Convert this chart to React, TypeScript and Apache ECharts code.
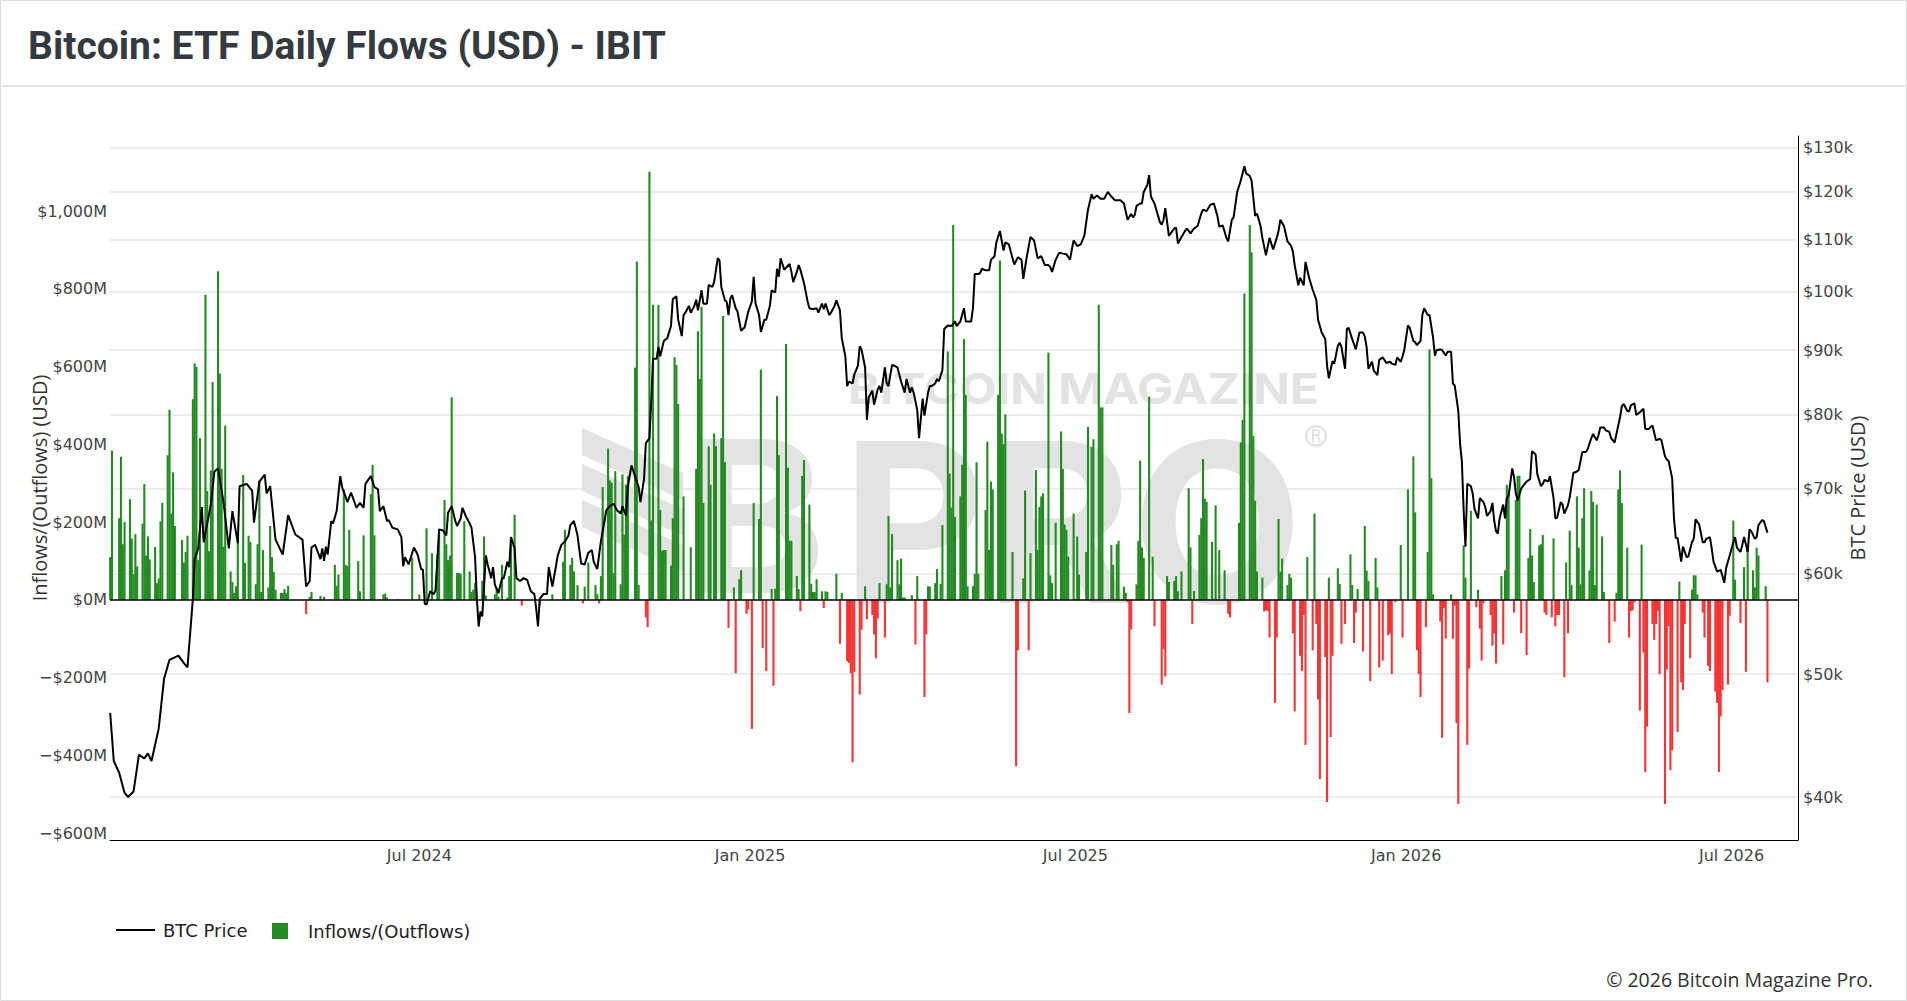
import React, { useEffect, useRef } from "react";
import * as echarts from "echarts";

// ---------- data ----------
const DAY = 86400000;
const LAUNCH = Date.UTC(2024, 0, 11); // first IBIT trading day

// daily IBIT flows in $M, one value per weekday from launch
const flowsJanMay2024 = [110,384, 0,210,368,143,200, 259,158,66,169,86, 196,298,114,163,104, 136,43,55,202,249, 372,489,222,328,190, 0,154,96,123,165, 516,608,599,102,416, 785,280,125,333,560, 845,582,337,137,448, 73,46,18,35,162, 321,95,2,165,149, 40,143,307,20,128, 32,190,110,72,26, 18,18,28,18,36, 0,0,0,0,0, -37,0,8,20,0];
const flowsMayAug2024 = [0,10,0,8,0, 0,0,90,36,65, 284,90,87,180,0, 0,100,22,0,166, 0,272,347,166,0, 0,14,16,6,0, 0,0,2,0,0, 0,0,0,108,0, 14,0,0,0,184, 120,0,0,116,182, 257,143,102,114,521, 69,69,67,0,202, 73,20,26,43,0, 49,163,11,0,0, 14,32,8,0,90, 6,61,143,0,219, 0,-15,0,0];
const flowsSepDec2024 = [0, 0,0,0,0,-15, 0,0,0,0,14, 0,0,0,98,180, 90,108,73,0,38, -9,34,0,96,0, 38,14,-9,61,290, 389,307,301,69,331, 40,323,167,296,319, 0,597,870,38,2, -45,-70,1101,204,759, 759,231,126,128,128, 88,210,624,604,504, 266,0,0,0,135, 337,691,568,753,249, 395,296,0,428,395, 416,730,354,0,-72, 32,-189];
const flowsDec2024Apr2025 = [0,53,76, -36,-25,0,-332,249, 208,592,-124,0,-183, 28,-221,29,524,372, 0,658,340,152,152, 61,28,-29,319,360, 245,41,20,20,53, 22,-21,22,20,0, 0,67,0,-113,18, -158,-162,-189,-418,-185, -244,-77,0,35,-50, -39,-89,-150,-48,43, -97,40,216,32,169, 102,40,106,6,6, 0,12,0,-115,61, 0,-250,-89,35,34, 43,79,2,41,192];
const flowsAprAug2025 = [639,325,237,964,213, 266,348,671,527,35, 35,67,354,67,0, 231,407,128,304,284, 527,873,428,401,477, 0,123,0,-428,-130, 55,281,0,-130,120, 334,129,239,266,274, 636,63,43,0,198, 433,337,194,180,111, 222,2,163,65,0, 123,445,0,393,413, 759,495,495,0,0, 141,90,0,143,152, 34,18,-6,-291,-76, 40,152,358,135,108, 522,0,111,-68,0];
const flowsAugDec2025 = [-218,-127,-197,61,46, 49,61,22,0,73, 0,287,135,-62,23, 167,210,362,260,252, 149,0,243,2,128, 76,0,-36,-45,0, 0,198,405,463,788, 964,894,421,255,73, 57,-30,-27,-29,-97, -265,-97,208,73,106, 38,67,57,-86,-287, -144,-183,-39,-373,110, -130,222,-62,-256,-461, -147,-520,57,-353,-144, 81,41,-113,0,-62, 117,38,-111,-33,28, -133,190,75];
const flowsDec2025Apr2026 = [49,-209, 108,32,-174,0,-156, -91,-86,-191,0,-6, 141,-97,0,0,284, 369,225,-129,-191,-250, -70,123,644,313,14, 0,-56,-355,-21,-100, 14,-100,-15,-317,-525, 140,57,-373,-177,229, -19,26,-74,-156,-9, 0,-39,-118,-86,-164, 61,-115,76,296,272, -33,257,319,319,-86, -142,108,182,114,46, 140,143,167,-33,-39, -45,158,-68,-39,-39, -199,96,-86,178,38];
const flowsAprJul2026 = [266,135,40,210,287, 76,280,252,38,245, 163,20,0,0,-111, -56,18,284,333,249, 134,-97,-29,-27,-6, -285,142,-136,-443,-326, -62,-103,-62,-29,-191, -525,-179,-68,-438,-387, -340,47,-212,-232,-62, -150,26,63,63,14, -33,-97,0,-170,-183, -236,-265,-443,-300,-232, -218,-41,0,204,52, -60,0,84,-185,134, 76,32,134,114,0, 35,-212];

// BTC price in $k: [days since launch, price]
const price2024 = [[0,46.6],[2,42.7],[5,41.8],[8,40.3],[10,40.0],[13,40.4],[16,43.2],[19,42.9],[21,43.3],[23,42.7],[27,45.3],[30,49.6],[33,51.3],[38,51.7],[41,51.0],[43,50.6],[46,57.3],[47,61.6],[49,62.8],[51,67.7],[52,63.5],[56,68.0],[58,72.2],[60,72.6],[63,68.4],[66,62.8],[68,67.2],[71,63.4],[72,70.3],[76,70.6],[79,69.7],[80,65.8],[83,70.9],[86,71.8],[87,69.4],[89,70.3],[92,63.8],[96,62.1],[99,66.7],[103,64.4],[107,63.8],[109,58.6],[111,59.2],[112,62.9],[114,63.2],[117,61.6],[118,62.8],[119,61.4],[120,63.0],[121,62.1],[123,66.0],[124,65.7],[126,67.2],[128,71.6],[129,70.2],[132,68.3],[134,69.5],[137,67.6],[139,68.2],[141,67.6],[142,70.6],[145,71.6],[147,70.2],[149,69.9],[150,67.2],[152,67.8],[154,66.0],[155,66.1],[157,65.2],[160,65.0],[162,64.1],[163,60.8],[164,61.8],[166,61.0],[167,61.6],[169,62.9],[171,62.1],[173,60.5],[174,60.4],[175,56.8],[176,56.7],[178,58.1],[180,57.8],[181,58.2],[183,65.0],[185,64.9],[187,64.3],[188,67.0],[190,67.8],[192,66.0],[193,65.4],[195,66.3],[196,67.6],[198,66.5],[200,65.7],[201,65.2],[203,61.8],[204,57.3],[205,54.5],[206,56.0],[207,55.5],[209,62.0],[210,61.0],[212,59.5],[213,60.7],[214,58.8],[216,57.9],[218,59.5],[219,59.5],[221,61.3],[222,60.7],[223,64.1],[225,62.8],[226,59.5],[228,59.2],[230,59.5],[232,59.3],[234,58.1],[236,57.8],[237,56.3],[238,54.5],[239,57.3],[241,57.8],[243,57.8],[244,60.7],[246,58.6],[248,60.8],[249,62.0],[251,63.2],[253,63.6],[255,64.3],[256,65.5],[258,66.0],[260,64.3],[262,61.1],[264,61.0],[266,62.3],[268,62.6],[269,61.3],[271,60.5],[273,63.6],[275,66.0],[276,67.3],[278,67.8],[280,68.1],[282,67.3],[284,66.9],[285,67.8],[287,66.6],[288,70.2],[290,73.0],[292,71.6],[294,70.2],[295,68.3],[297,71.2],[298,76.0],[300,76.7],[301,81.9],[302,88.6],[304,88.6],[305,90.5],[306,89.0],[308,91.5],[310,92.0],[312,94.0],[313,98.7],[315,99.2],[316,95.1],[318,92.3],[319,95.9],[320,96.3],[322,97.5],[323,96.3],[325,97.5],[326,98.6],[327,96.7],[329,100.3],[330,97.9],[332,97.9],[333,101.3],[335,100.9],[336,101.8],[338,106.3],[339,105.9],[340,100.9],[342,98.5],[343,98.2],[344,95.9],[345,98.8],[346,99.4],[348,97.1],[349,96.5],[351,93.2],[353,93.8],[355,96.5]];
const price2025 = [[357,98.3],[358,102.8],[359,98.0],[361,95.9],[362,93.0],[364,95.1],[365,95.1],[367,97.5],[368,100.3],[370,99.9],[371,104.3],[372,102.8],[373,106.3],[375,104.1],[376,104.5],[378,105.2],[379,103.7],[380,101.8],[382,103.7],[383,105.0],[384,104.1],[386,101.6],[388,98.3],[389,97.1],[391,96.9],[393,97.1],[394,96.3],[396,97.9],[397,96.9],[398,97.9],[400,95.9],[401,96.3],[403,97.5],[404,98.5],[406,96.7],[407,92.0],[409,89.0],[410,84.3],[411,85.0],[413,84.7],[414,86.1],[416,87.5],[417,90.6],[418,90.1],[420,87.2],[421,79.3],[422,82.6],[424,83.6],[425,81.5],[427,83.8],[428,84.3],[429,83.3],[431,87.2],[432,84.7],[433,84.3],[435,87.6],[436,87.5],[438,87.2],[440,85.0],[442,83.3],[443,85.4],[445,83.3],[446,84.1],[447,83.3],[449,80.7],[450,76.7],[452,82.4],[453,79.9],[455,83.3],[456,84.3],[457,84.3],[459,84.7],[460,85.4],[461,85.0],[463,86.8],[464,93.5],[466,94.1],[468,94.0],[470,94.8],[471,94.0],[473,94.8],[475,97.1],[476,94.8],[479,94.8],[480,97.1],[481,103.3],[483,103.3],[484,103.5],[485,104.3],[487,104.0],[489,104.0],[490,106.0],[492,106.7],[493,109.4],[495,111.7],[497,107.8],[498,109.4],[500,109.0],[501,107.6],[503,105.1],[505,106.5],[507,106.0],[508,102.4],[510,106.7],[512,110.5],[514,109.8],[516,106.3],[518,106.7],[520,105.0],[522,105.0],[523,104.6],[524,103.7],[526,106.0],[528,107.4],[530,107.2],[532,107.1],[534,106.0],[535,108.0],[536,109.8],[538,108.7],[540,109.0],[542,110.8],[544,116.1],[546,119.4],[547,118.4],[549,119.1],[551,118.4],[553,118.4],[555,119.9],[557,118.9],[559,118.1],[560,118.1],[562,118.1],[564,117.4],[566,114.0],[568,115.2],[569,114.5],[570,115.0],[571,116.9],[573,117.4],[574,117.4],[575,119.9],[577,121.4],[578,123.6],[579,118.9],[581,117.4],[582,116.1],[584,113.5],[585,113.0],[586,114.0],[587,116.4],[589,110.7],[590,111.2],[592,112.2],[593,112.4],[594,109.2],[596,110.5],[598,111.7],[599,112.2],[601,111.2],[603,112.2],[605,112.7],[607,115.3],[608,116.1],[610,115.8],[612,117.1],[614,117.4],[616,114.8],[617,112.6],[619,112.8],[621,110.3],[622,109.6],[624,114.0],[625,114.5],[627,119.9],[629,122.4],[631,125.6],[632,124.0],[634,123.4],[635,122.4],[637,114.8],[638,115.3],[640,112.7],[641,110.3],[643,106.9],[645,110.3],[647,108.0],[649,110.3],[650,111.7],[651,114.0],[653,112.7],[655,109.6],[657,108.7],[658,107.6],[659,105.0],[661,101.2],[662,102.6],[664,101.2],[665,105.6],[667,102.6],[669,100.4],[671,98.6],[672,95.1],[674,92.9],[676,91.8],[677,87.5],[678,85.5],[680,88.2],[681,87.8],[683,90.7],[684,91.2],[685,90.5],[687,87.0],[688,93.5],[689,93.7],[691,91.8],[693,90.1],[694,91.5],[695,92.9],[697,92.9],[698,92.2],[699,90.5],[700,87.0],[702,88.1],[703,86.7],[705,86.0],[706,88.4],[708,88.8],[710,87.9],[712,88.1],[713,87.8],[715,87.6],[716,88.8],[718,88.1],[719,89.0],[720,90.1]];
const price2026 = [[722,94.1],[723,93.7],[725,91.5],[726,91.3],[727,90.8],[729,91.5],[730,95.9],[731,97.1],[733,95.9],[734,95.9],[736,92.0],[737,89.1],[738,90.0],[740,90.1],[741,90.0],[743,89.1],[744,89.7],[746,89.7],[747,84.7],[748,84.4],[750,80.6],[751,75.9],[752,73.5],[753,67.2],[754,63.0],[755,70.6],[757,70.3],[758,69.4],[759,67.5],[761,66.3],[762,68.8],[764,68.3],[765,67.7],[766,66.6],[768,67.2],[769,68.2],[770,66.0],[771,64.8],[772,64.5],[773,66.3],[775,68.0],[776,66.3],[777,68.8],[778,69.1],[780,72.6],[781,71.5],[782,69.4],[783,68.5],[785,70.0],[786,70.3],[788,70.9],[790,71.2],[791,74.9],[793,74.5],[794,71.8],[796,70.3],[797,70.6],[798,71.1],[800,70.9],[801,71.6],[803,68.8],[804,66.3],[805,66.4],[807,68.3],[808,68.0],[809,66.9],[811,67.9],[812,68.9],[814,72.0],[816,72.2],[817,72.4],[819,74.8],[821,74.8],[822,75.2],[824,76.7],[825,77.3],[827,76.4],[828,77.1],[829,78.2],[831,78.2],[832,77.8],[834,77.6],[835,76.7],[837,76.1],[838,77.3],[840,79.7],[841,81.3],[842,81.6],[844,80.6],[845,80.5],[846,81.4],[848,81.7],[849,80.0],[851,80.4],[853,80.9],[854,78.0],[856,78.0],[858,78.5],[860,76.4],[862,76.6],[863,76.4],[865,74.2],[866,73.8],[867,73.6],[869,71.3],[870,66.3],[871,64.0],[872,64.0],[874,61.3],[875,63.0],[877,61.8],[878,61.9],[880,63.5],[881,63.9],[882,66.2],[884,65.6],[886,63.5],[887,63.5],[888,63.9],[890,64.1],[891,62.8],[892,61.3],[894,60.2],[895,60.3],[896,60.4],[898,59.0],[899,60.6],[901,62.0],[903,63.5],[904,64.1],[905,62.9],[907,62.4],[908,63.2],[909,64.1],[911,62.4],[912,65.0],[913,64.8],[915,63.9],[916,64.1],[917,65.5],[919,66.1],[920,66.0],[922,64.6]];

// axis ticks
const flowTicks = [-600, -400, -200, 0, 200, 400, 600, 800, 1000];
const priceTicks = [40, 50, 60, 70, 80, 90, 100, 110, 120, 130];
const dateTicks = ["2024-07-01", "2025-01-01", "2025-07-01", "2026-01-01", "2026-07-01"];
const MONTHS = ["Jan","Feb","Mar","Apr","May","Jun","Jul","Aug","Sep","Oct","Nov","Dec"];

// ---------- styles ----------
const GREEN = "#228b22";
const RED = "#f83333";
const TICK_FONT = "DejaVu Sans";
const TITLE_FONT = "Open Sans";

function buildOption() {
  const flows = [
    ...flowsJanMay2024, ...flowsMayAug2024, ...flowsSepDec2024, ...flowsDec2024Apr2025,
    ...flowsAprAug2025, ...flowsAugDec2025, ...flowsDec2025Apr2026, ...flowsAprJul2026,
  ];
  const flowDates: number[] = [];
  for (let d = 0; flowDates.length < flows.length; d++) {
    const wd = (d + 3) % 7; // Mon=0 ... Sun=6 (launch day was a Thursday)
    if (wd < 5) flowDates.push(LAUNCH + d * DAY);
  }
  const barData = flows.map((v, i) =>
    v < 0 ? { value: [flowDates[i], v], itemStyle: { color: RED } } : { value: [flowDates[i], v] }
  );
  const priceData = [...price2024, ...price2025, ...price2026].map(([d, p]) => [LAUNCH + d * DAY, p]);
  const tickTs = dateTicks.map((s) => Date.parse(s + "T00:00:00Z"));

  const wm = "#e3e3e3";
  return {
    animation: false,
    backgroundColor: "#fff",
    title: {
      text: "Bitcoin: ETF Daily Flows (USD) - IBIT",
      left: 28,
      top: 26,
      padding: 0,
      textStyle: { fontFamily: "Roboto", fontWeight: "bold", fontSize: 39, lineHeight: 39, color: "#343a40" },
    },
    grid: { left: 110, right: 109, top: 136, bottom: 161, containLabel: false },
    legend: [
      {
        data: [{ name: "BTC Price", icon: "path://M0,0L40,0L40,2L0,2Z", itemStyle: { color: "#000" } }],
        left: 116, top: 921, itemWidth: 39, itemHeight: 2, padding: 0, selectedMode: false,
        textStyle: { fontFamily: TICK_FONT, fontSize: 18, color: "#222", padding: [0, 0, 0, 3] },
      },
      {
        data: [{ name: "Inflows/(Outflows)", icon: "rect", itemStyle: { color: GREEN } }],
        left: 272, top: 922, itemWidth: 16, itemHeight: 16, padding: 0, selectedMode: false,
        textStyle: { fontFamily: TICK_FONT, fontSize: 18, color: "#222", padding: [0, 0, 0, 15] },
      },
    ],
    xAxis: {
      type: "value",
      min: LAUNCH - 0.1 * DAY,
      max: LAUNCH + 939 * DAY,
      axisLine: { show: true, onZero: false, lineStyle: { color: "#000", width: 1 } },
      axisTick: { show: false, customValues: tickTs },
      splitLine: { show: false },
      axisLabel: {
        customValues: tickTs,
        margin: 7,
        fontFamily: TICK_FONT,
        fontSize: 16,
        color: "#444",
        formatter: (v: number) => {
          const d = new Date(v);
          return MONTHS[d.getUTCMonth()] + " " + d.getUTCFullYear();
        },
      },
    },
    yAxis: [
      {
        type: "value",
        min: -617.7,
        max: 1193,
        position: "left",
        name: "Inflows/(Outflows) (USD)",
        nameLocation: "middle",
        nameGap: 61,
        nameMoveOverlap: false,
        nameTextStyle: { fontFamily: TITLE_FONT, fontSize: 20, color: "#333" },
        axisLine: { show: false },
        axisTick: { show: false, customValues: flowTicks },
        splitLine: { show: false },
        axisLabel: {
          customValues: flowTicks,
          margin: 3,
          fontFamily: TICK_FONT,
          fontSize: 16,
          color: "#444",
          formatter: (v: number) =>
            (v < 0 ? "\u2212$" : "$") + Math.abs(v).toLocaleString("en-US") + "M",
        },
      },
      {
        type: "log",
        logBase: 10,
        min: 37.0,
        max: 132.7,
        position: "right",
        name: "BTC Price (USD)",
        nameLocation: "middle",
        nameGap: 49,
        nameMoveOverlap: false,
        nameTextStyle: { fontFamily: TITLE_FONT, fontSize: 20, color: "#333" },
        axisLine: { show: true, lineStyle: { color: "#000", width: 1 } },
        axisTick: { show: false },
        axisLabel: { show: false },
        splitLine: { show: false },
      },
    ],
    series: [
      {
        name: "Inflows/(Outflows)",
        type: "bar",
        xAxisIndex: 0,
        yAxisIndex: 0,
        barWidth: 2.1,
        color: GREEN,
        itemStyle: { color: GREEN },
        data: barData,
        z: 2,
        markLine: {
          silent: true,
          z: 4,
          symbol: ["none", "none"],
          label: { show: false },
          lineStyle: { color: "#000", width: 1.5, type: "solid" },
          emphasis: { disabled: true },
          data: [{ yAxis: 0 }],
        },
      },
      {
        name: "BTC Price",
        type: "line",
        xAxisIndex: 0,
        yAxisIndex: 1,
        symbol: "none",
        color: "#000",
        lineStyle: { color: "#000", width: 2 },
        data: priceData,
        z: 5,
        markLine: {
          silent: true,
          z: 0,
          symbol: ["none", "none"],
          lineStyle: { color: "#e6e6e6", width: 1.5, type: "solid" },
          emphasis: { disabled: true },
          label: { show: true, position: "end", distance: 5, fontFamily: TICK_FONT, fontSize: 16, color: "#444" },
          data: priceTicks.map((v) => ({ yAxis: v, label: { formatter: "$" + v + "k" } })),
        },
      },
    ],
    graphic: [
      {
        type: "rect", silent: true, z: 0,
        shape: { x: 0.5, y: 0.5, width: 1906, height: 1000 },
        style: { fill: "none", stroke: "#dddddd", lineWidth: 1 },
      },
      {
        type: "line", silent: true, z: 0,
        shape: { x1: 0, y1: 86, x2: 1907, y2: 86 },
        style: { stroke: "#e4e4e4", lineWidth: 2 },
      },
      {
        type: "group", silent: true, z: 1,
        children: [
          { type: "polygon", z: 1, shape: { points: [[582, 428], [683, 473], [683, 500], [582, 455]] }, style: { fill: wm } },
          { type: "polygon", z: 1, shape: { points: [[582, 464], [683, 509], [683, 536], [582, 491]] }, style: { fill: wm } },
          { type: "polygon", z: 1, shape: { points: [[582, 500], [683, 545], [683, 572], [582, 527]] }, style: { fill: wm } },
          { type: "text", z: 1, x: 686, y: 516, style: { text: "B", fontFamily: "Inter", fontWeight: "bold", fontSize: 212, fill: wm, align: "left", verticalAlign: "middle" } },
          { type: "text", z: 1, x: 848, y: 388, scaleX: 1.12, style: { text: "BITCOIN MAGAZINE", fontFamily: "Inter", fontWeight: "bold", fontSize: 43, fill: wm, align: "left", verticalAlign: "middle" } },
          { type: "text", z: 1, x: 842, y: 522, style: { text: "PRO", fontFamily: "Inter", fontWeight: "bold", fontSize: 222, fill: wm, align: "left", verticalAlign: "middle" } },
          { type: "ring", z: 1, shape: { cx: 1316, cy: 436, r: 11, r0: 8.5 }, style: { fill: wm } },
          { type: "polyline", z: 1, shape: { points: [[1313, 442], [1313, 430], [1318, 430], [1319.5, 432.5], [1318, 435], [1313, 435], [1318, 435], [1320, 442]] }, style: { stroke: wm, lineWidth: 2, fill: "none" } },
        ],
      },
      {
        type: "text", silent: true, z: 0, x: 1873, y: 979,
        style: { text: "\u00a9 2026 Bitcoin Magazine Pro.", fontFamily: TITLE_FONT, fontSize: 19.5, fill: "#333", align: "right", verticalAlign: "middle" },
      },
    ],
  };
}

export default function App() {
  const ref = useRef<HTMLDivElement>(null);
  useEffect(() => {
    document.body.style.margin = "0";
    const chart = echarts.init(ref.current as HTMLDivElement, null, { renderer: "svg" });
    chart.setOption(buildOption() as any);
    return () => chart.dispose();
  }, []);
  return <div ref={ref} style={{ width: 1907, height: 1001 }} />;
}
